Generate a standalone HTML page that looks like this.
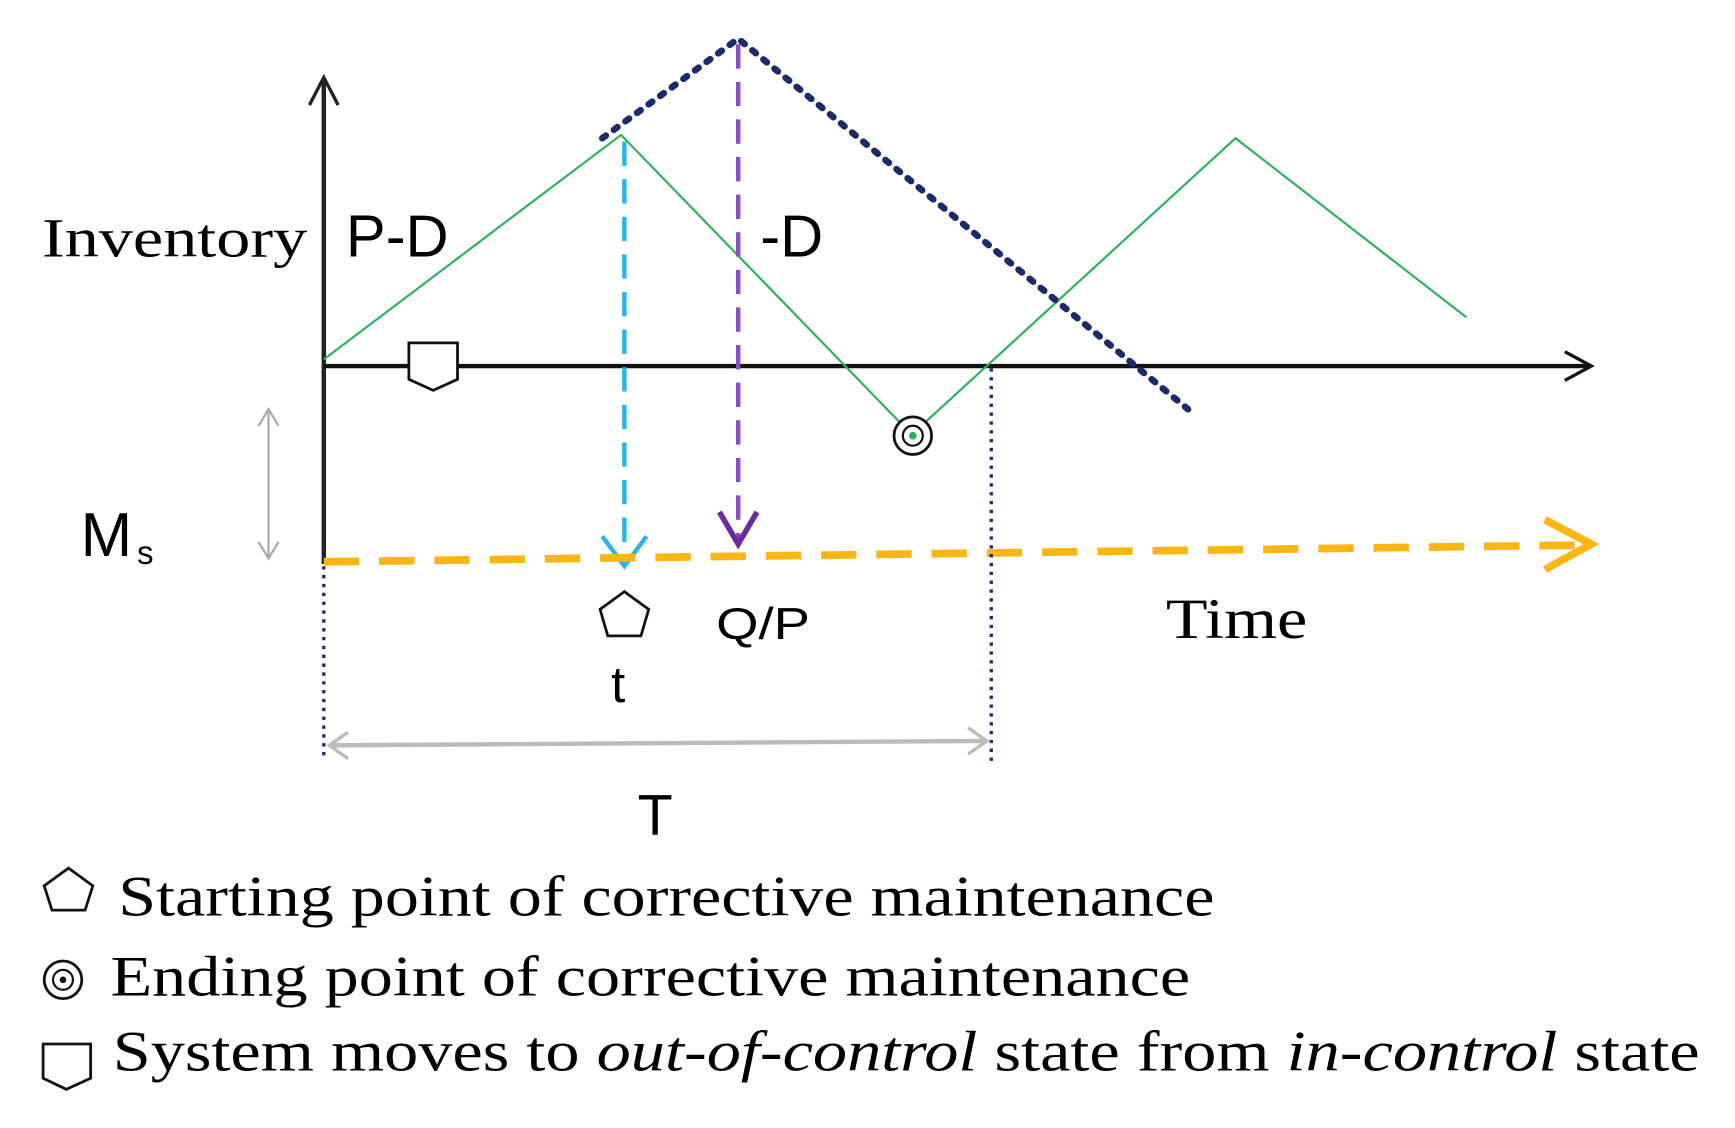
<!DOCTYPE html>
<html><head><meta charset="utf-8"><style>
html,body{margin:0;padding:0;background:#fff;}
svg{display:block;}
.serif{font-family:"Liberation Serif",serif;}
.sans{font-family:"Liberation Sans",sans-serif;}
</style></head><body>
<svg width="1735" height="1128" viewBox="0 0 1570 1020" preserveAspectRatio="none" xmlns="http://www.w3.org/2000/svg">
<!-- axes -->
<line x1="293" y1="72" x2="293" y2="510" stroke="#222" stroke-width="4"/>
<path d="M280,95 L293,70 L306,95" fill="none" stroke="#222" stroke-width="3"/>
<line x1="293" y1="331" x2="1438" y2="331" stroke="#111" stroke-width="4"/>
<path d="M1416,318 L1440,331 L1416,344" fill="none" stroke="#111" stroke-width="3"/>
<!-- green -->
<polyline points="293,325 562,122 825,393 1118,125 1327,287" fill="none" stroke="#2db35e" stroke-width="2"/>
<!-- navy dotted -->
<polyline points="545,125 668,35 1075,370" fill="none" stroke="#1a2a6c" stroke-width="6" stroke-dasharray="4,9" stroke-linecap="round"/>
<!-- cyan dashed -->
<line x1="565" y1="128" x2="565" y2="508" stroke="#2ab4ec" stroke-width="4" stroke-dasharray="22,12"/>
<path d="M545,485 L565,512 L585,485" fill="none" stroke="#2ab4ec" stroke-width="4"/>
<!-- purple dashed -->
<line x1="668" y1="40" x2="668" y2="490" stroke="#8a4fc0" stroke-width="4" stroke-dasharray="22,12"/>
<path d="M651,463 L668,492 L685,463" fill="none" stroke="#6a2aa0" stroke-width="5"/>
<!-- orange dashed -->
<line x1="293" y1="508" x2="1425" y2="493" stroke="#fbb614" stroke-width="7" stroke-dasharray="32,18"/>
<path d="M1398,470 L1440,492 L1398,515" fill="none" stroke="#fbb614" stroke-width="7"/>
<!-- vertical gray double arrow -->
<line x1="243" y1="372" x2="243" y2="503" stroke="#aaa" stroke-width="2"/>
<path d="M234,385 L243,370 L252,385 M234,490 L243,505 L252,490" fill="none" stroke="#aaa" stroke-width="2"/>
<!-- navy dotted verticals -->
<line x1="293" y1="512" x2="293" y2="688" stroke="#1a2a6c" stroke-width="3" stroke-dasharray="3,5"/>
<line x1="897" y1="333" x2="897" y2="692" stroke="#1a2a6c" stroke-width="3" stroke-dasharray="3,5"/>
<!-- horizontal double arrow T -->
<line x1="298" y1="674" x2="893" y2="670" stroke="#bbb" stroke-width="4"/>
<path d="M315,662 L298,674 L315,686 M876,658 L893,670 L876,682" fill="none" stroke="#bbb" stroke-width="3"/>
<!-- shield on axis -->
<path d="M370,310 L414,310 L414,343 L392,353 L370,343 Z" fill="#fff" stroke="#111" stroke-width="2.5"/>
<!-- concentric circle -->
<circle cx="826" cy="394" r="17" fill="#fff" stroke="#111" stroke-width="2.5"/>
<circle cx="826" cy="394" r="9" fill="none" stroke="#111" stroke-width="2"/>
<circle cx="826" cy="394" r="3.5" fill="#2db35e"/>
<!-- pentagon -->
<path d="M565,535 L587,551 L580,575 L550,575 L543,551 Z" fill="#fff" stroke="#111" stroke-width="2.5"/>
<!-- labels -->
<text x="38" y="232" class="serif" font-size="50" textLength="240" lengthAdjust="spacingAndGlyphs">Inventory</text>
<text x="313" y="232" class="sans" font-size="54">P-D</text>
<text x="688" y="232" class="sans" font-size="54">-D</text>
<text x="73" y="503" class="sans" font-size="56">M</text>
<text x="124" y="510" class="sans" font-size="30">s</text>
<text x="648" y="578" class="sans" font-size="40" textLength="85" lengthAdjust="spacingAndGlyphs">Q/P</text>
<text x="553" y="635" class="sans" font-size="46">t</text>
<text x="1055" y="577" class="serif" font-size="52" textLength="128" lengthAdjust="spacingAndGlyphs">Time</text>
<text x="577" y="755" class="sans" font-size="52">T</text>
<!-- legend -->
<path d="M62,785 L84,801 L77,823 L47,823 L40,801 Z" fill="#fff" stroke="#111" stroke-width="2.5"/>
<text x="107" y="828" class="serif" font-size="52" textLength="992" lengthAdjust="spacingAndGlyphs">Starting point of corrective maintenance</text>
<circle cx="57" cy="886" r="17" fill="#fff" stroke="#111" stroke-width="2.5"/>
<circle cx="57" cy="886" r="9" fill="none" stroke="#111" stroke-width="2"/>
<circle cx="57" cy="886" r="3" fill="#111"/>
<text x="100" y="900" class="serif" font-size="52" textLength="977" lengthAdjust="spacingAndGlyphs">Ending point of corrective maintenance</text>
<path d="M39,944 L82,944 L82,975 L60,985 L39,975 Z" fill="#fff" stroke="#111" stroke-width="2.5"/>
<text x="102" y="968" class="serif" font-size="52" textLength="1436" lengthAdjust="spacingAndGlyphs">System moves to <tspan font-style="italic">out-of-control</tspan> state from <tspan font-style="italic">in-control</tspan> state</text>
</svg>
</body></html>
